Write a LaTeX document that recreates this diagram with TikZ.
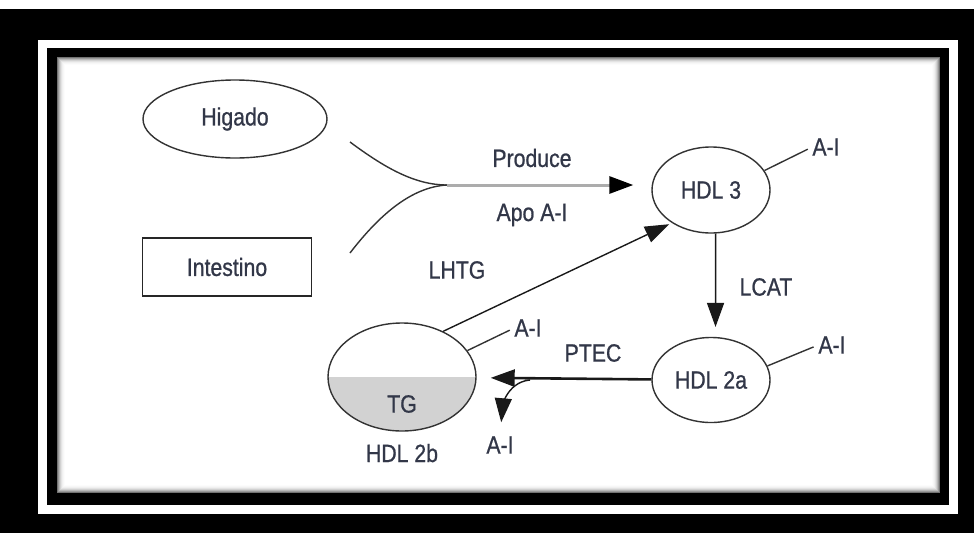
\documentclass[tikz,border=0pt]{standalone}
\usepackage{fontspec}
\setmainfont{Liberation Sans}[FakeStretch=0.85,FakeBold=0.8]
\usetikzlibrary{arrows.meta,shapes,positioning,calc}
\definecolor{ink}{RGB}{50,55,72}

\begin{document}
\begin{tikzpicture}
[x=1pt,y=-1pt,node distance=1cm,
 lbl/.style={text=ink,font=\fontsize{25}{28}\selectfont,inner sep=0pt},
 part/.style={ellipse,draw=black!80,line width=1.4pt,lbl},
 tick/.style={draw=black!80,line width=1.4pt},
 flow/.style={draw=black!90,line width=1.4pt,-{Triangle[length=24pt,width=17pt]}}]
\useasboundingbox (0,0) rectangle (974,533);
%% frame
\fill[black] (0,9) rectangle (974,533);
\fill[white] (38,40) rectangle (958,514);
\fill[black] (47,48) rectangle (949,505);
\foreach \i/\c in {0/55,1/40,2/28,3/18,4/11,5/6,6/3,7/1}
  \fill[black!\c] (57+\i,57+\i) rectangle (940-\i,493-\i);
\fill[white] (65,65) rectangle (932,485);
%% sources
\node[part,minimum width=184,minimum height=78] (hig) at (235,119) {Higado};
\node[lbl,draw=black!85,line width=1.8pt,minimum width=169,minimum height=58] (int) at (227,267) {Intestino};
%% particles
\node[part,minimum width=118,minimum height=86] (HDL3) at (711,190) {HDL 3};
\node[part,minimum width=118,minimum height=85] (HDL2a) at (711,380) {HDL 2a};
\node[part,minimum width=148,minimum height=108,
  path picture={\fill[gray!35] (path picture bounding box.west) rectangle (path picture bounding box.south east);}] (HDLb) at (402,377) {};
\node[lbl] (tg) at (402,404) {TG};
\node[lbl,below=12pt of HDLb] (nb) {HDL 2b};
%% production
\coordinate (hs) at (350,142);
\coordinate (is) at (350,253);
\coordinate (hj) at (447,185);
\draw[tick] (hs) .. controls (385,168) and (415,185) .. (hj);
\draw[tick] (is) .. controls (380,214) and (412,187) .. (hj);
\draw[draw=gray!65,line width=3pt,shorten >=18pt,-{Triangle[length=24pt,width=17pt,black]}] (hj) -- (hj -| HDL3.west);
\node[lbl] (prod) at (532,158) {Produce};
\node[lbl] (apo) at (532,215) {Apo A-I};
%% conversions
\draw[flow,shorten >=10pt] (HDL3.276) -- (HDL2a.84);
\node[lbl] (lcat) at (766,287) {LCAT};
\draw[flow,line width=2.6pt,shorten >=14pt] (HDL2a) -- (HDLb);
\node[lbl] (ptec) at (593,353) {PTEC};
\draw[flow,shorten >=3pt] (HDLb.48) -- (HDL3.220);
\node[lbl] (lhtg) at (457,270) {LHTG};
%% apo A-I
\node[lbl] (aiA) at (826,147) {A-I};
\node[lbl] (aiB) at (832,345) {A-I};
\node[lbl] (aiC) at (528,328) {A-I};
\node[lbl] (aiD) at (500,445) {A-I};
\draw[tick,shorten >=5pt] (HDL3.20) -- (aiA.west);
\draw[tick,shorten >=5pt] (HDL2a.14) -- (aiB.west);
\draw[tick,shorten >=5pt] (HDLb.22) -- (aiC.west);
\coordinate (split) at (530,380);
\draw[flow,shorten >=14pt] (split) to[out=185,in=85] (aiD.north);
\end{tikzpicture}
\end{document}
